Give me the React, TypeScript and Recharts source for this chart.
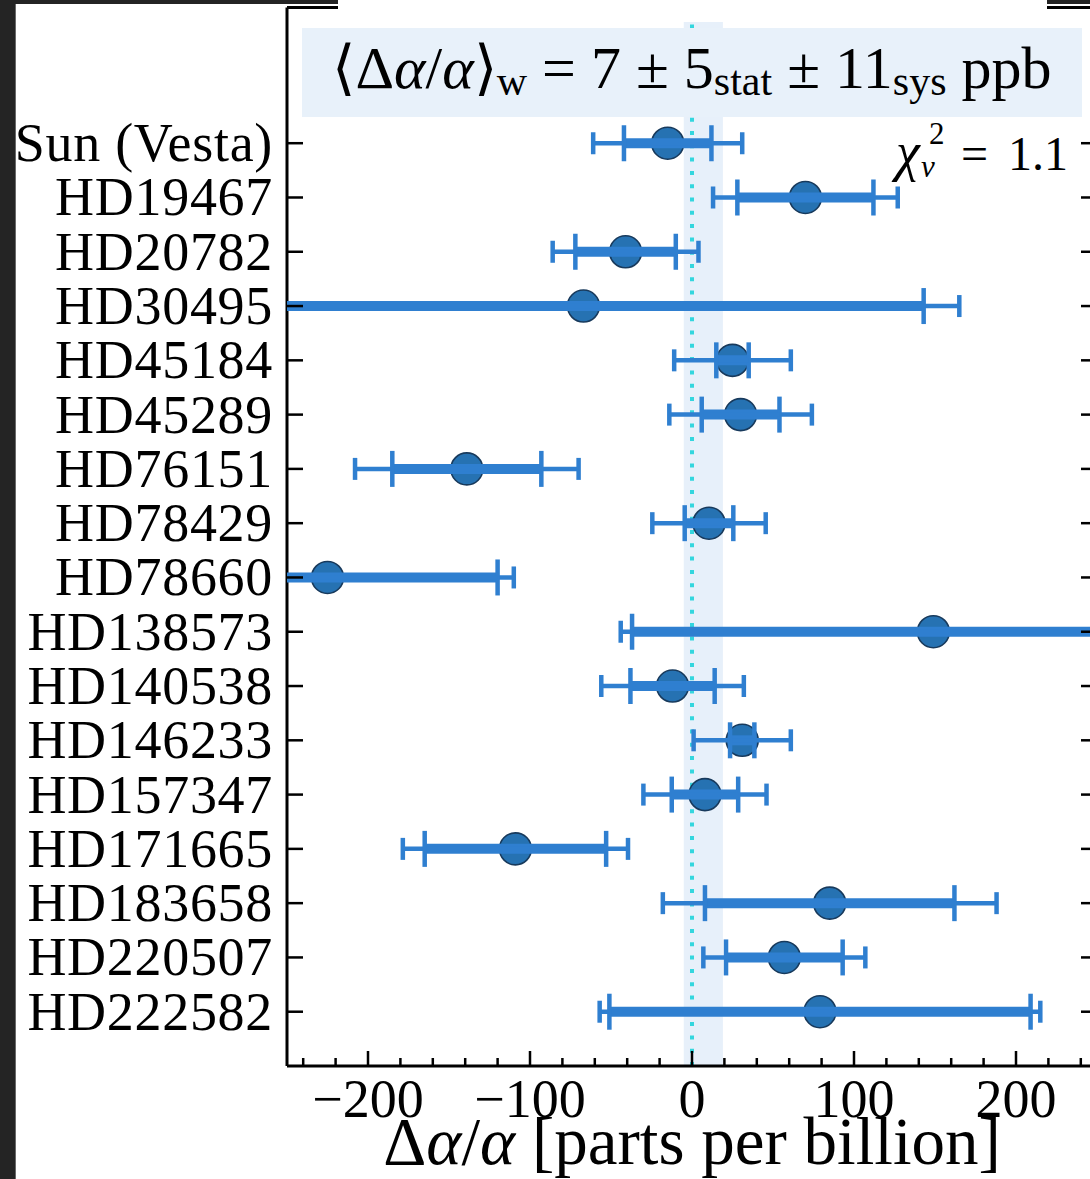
import React from 'react';
import { ScatterChart, Scatter, XAxis, YAxis, ErrorBar, ReferenceArea, ReferenceLine } from 'recharts';

const stars = [
  'Sun (Vesta)', 'HD19467', 'HD20782', 'HD30495', 'HD45184', 'HD45289', 'HD76151', 'HD78429',
  'HD78660', 'HD138573', 'HD140538', 'HD146233', 'HD157347', 'HD171665', 'HD183658', 'HD220507', 'HD222582',
];
const values = [-15, 70, -41, -67, 25, 30, -139, 10.5, -225, 149, -12, 31, 8, -109, 85, 57, 79];
const statErr = [27, 42, 31, 210, 10, 24, 46, 15, 105, 186, 26, 7.5, 20.5, 56, 77, 36, 130];
const totalErr = [46, 57, 45, 232, 36, 44, 69, 35, 115, 193, 44, 30, 38, 69.5, 103, 50, 136];

const majorTicks = [-200, -100, 0, 100, 200];
const xTicks = [-240, -220, -200, -180, -160, -140, -120, -100, -80, -60, -40, -20, 0, 20, 40, 60, 80, 100, 120, 140, 160, 180, 200, 220, 240];
const xDomain = [-250, 250];
const yDomain = [-2.5, 17];
const rowTicks = stars.map((_, i) => i);

const meanValue = 7;
const meanStat = 5;
const meanSys = 11;
const meanTotal = Math.sqrt(meanStat * meanStat + meanSys * meanSys);
const chiSq = '1.1';

const data = stars.map((name, i) => ({ name, x: values[i], y: i, stat: statErr[i], total: totalErr[i] }));

const FONT = '"Liberation Serif", "Times New Roman", serif';
const BAR = '#2f7fd0';
const TICK_W = 2.5;

const fmt = (v: number) => (v < 0 ? '\u2212' + Math.abs(v) : String(v));

function LeftTick(props: any) {
  const { x, y, payload } = props;
  return (
    <g>
      <line x1={x} x2={x + 16} y1={y} y2={y} stroke="#000" strokeWidth={TICK_W} />
      <text x={x - 14} y={y} dy={18} textAnchor="end" fontFamily={FONT} fontSize={54} letterSpacing={0.7} fill="#000">
        {stars[payload.value]}
      </text>
    </g>
  );
}

function RightTick(props: any) {
  const { x, y } = props;
  return <line x1={x - 16} x2={x} y1={y} y2={y} stroke="#000" strokeWidth={TICK_W} />;
}

function BottomTick(props: any) {
  const { x, y, payload } = props;
  const v = payload.value;
  const major = majorTicks.includes(v);
  const len = major ? 15 : 8;
  return (
    <g>
      <line x1={x} x2={x} y1={y - len} y2={y} stroke="#000" strokeWidth={TICK_W} />
      {major && (
        <text x={x} y={y} dy={51} textAnchor="middle" fontFamily={FONT} fontSize={54} fill="#000">
          {fmt(v)}
        </text>
      )}
    </g>
  );
}

function TopTick(props: any) {
  const { x, y, payload } = props;
  const major = majorTicks.includes(payload.value);
  const len = major ? 15 : 8;
  return <line x1={x} x2={x} y1={y} y2={y + len} stroke="#000" strokeWidth={TICK_W} />;
}

const Dot = (p: any) => <circle cx={p.cx} cy={p.cy} r={16} fill="#2672b2" stroke="#183a5c" strokeWidth={1.6} />;

const clipCss = '.recharts-errorBars, .recharts-errorBar { clip-path: url(#plot-clip); }';

export default function App() {
  return (
    <div style={{ position: 'absolute', left: 0, top: 0, width: 1090, height: 1179, overflow: 'hidden', background: '#fff' }}>
      <style>{clipCss}</style>
      <svg width={0} height={0} style={{ position: 'absolute' }}>
        <defs>
          <clipPath id="plot-clip" clipPathUnits="userSpaceOnUse">
            <rect x={287} y={7.5} width={810} height={1058.5} />
          </clipPath>
        </defs>
      </svg>
      <div style={{ position: 'absolute', left: 0, top: 0 }}>
        <ScatterChart width={1100} height={1179} margin={{ top: 0, right: 0, bottom: 0, left: 0 }}>
          <XAxis
            xAxisId="b"
            type="number"
            dataKey="x"
            orientation="bottom"
            domain={xDomain}
            ticks={xTicks}
            interval={0}
            allowDataOverflow
            height={113}
            tickSize={0}
            tickMargin={0}
            tickLine={false}
            axisLine={{ stroke: '#000', strokeWidth: 3 }}
            tick={<BottomTick />}
          />
          <XAxis
            xAxisId="t"
            type="number"
            orientation="top"
            domain={xDomain}
            ticks={xTicks}
            interval={0}
            allowDataOverflow
            height={7.5}
            tickSize={0}
            tickMargin={0}
            tickLine={false}
            axisLine={{ stroke: '#000', strokeWidth: 3 }}
            tick={<TopTick />}
          />
          <YAxis
            yAxisId="l"
            type="number"
            dataKey="y"
            orientation="left"
            domain={yDomain}
            reversed
            ticks={rowTicks}
            interval={0}
            allowDataOverflow
            width={287}
            tickSize={0}
            tickMargin={0}
            tickLine={false}
            axisLine={{ stroke: '#000', strokeWidth: 3 }}
            tick={<LeftTick />}
          />
          <YAxis
            yAxisId="r"
            type="number"
            orientation="right"
            domain={yDomain}
            reversed
            ticks={rowTicks}
            interval={0}
            allowDataOverflow
            width={3}
            tickSize={0}
            tickMargin={0}
            tickLine={false}
            axisLine={{ stroke: '#000', strokeWidth: 3 }}
            tick={<RightTick />}
          />
          <ReferenceArea
            xAxisId="b"
            yAxisId="l"
            x1={meanValue - meanTotal}
            x2={meanValue + meanTotal}
            fill="#e7f0fa"
            fillOpacity={1}
            stroke="none"
          />
          <ReferenceLine xAxisId="b" yAxisId="l" x={0} stroke="#34d6de" strokeWidth={4} strokeDasharray="4 9.3" />
          <Scatter xAxisId="b" yAxisId="l" data={data} shape={Dot} isAnimationActive={false}>
            <ErrorBar dataKey="total" direction="x" width={11} strokeWidth={4.5} stroke={BAR} isAnimationActive={false} zIndex={0} />
            <ErrorBar dataKey="stat" direction="x" width={0} strokeWidth={10} stroke={BAR} isAnimationActive={false} zIndex={0} />
            <ErrorBar dataKey="stat" direction="x" width={18} strokeWidth={4.5} stroke={BAR} isAnimationActive={false} zIndex={0} />
          </Scatter>
        </ScatterChart>
      </div>

      {/* screenshot frame remnants */}
      <div style={{ position: 'absolute', left: 0, top: 0, width: 15, height: 1179, background: '#242424', borderRight: '1px solid #6a6a6a' }} />
      <div style={{ position: 'absolute', left: 0, top: 0, width: 338, height: 4, background: '#242424' }} />
      <div style={{ position: 'absolute', left: 1047, top: 0, width: 43, height: 4, background: '#242424' }} />
      <div style={{ position: 'absolute', left: 338, top: 0, width: 709, height: 22, background: '#fff' }} />

      <svg width={1090} height={1179} style={{ position: 'absolute', left: 0, top: 0, pointerEvents: 'none' }}>
        {/* weighted mean annotation */}
        <rect x={302} y={28} width={780} height={89} fill="#e8f1fa" />
        <text x={692} y={88} textAnchor="middle" fontFamily={FONT} fontSize={60} fill="#000">
          <tspan>{'\u27E8\u0394'}</tspan>
          <tspan fontStyle="italic">α</tspan>
          <tspan>/</tspan>
          <tspan fontStyle="italic">α</tspan>
          <tspan>{'\u27E9'}</tspan>
          <tspan fontSize={42} dy={7}>w</tspan>
          <tspan dy={-7}>{' = ' + meanValue + ' \u00B1 ' + meanStat}</tspan>
          <tspan fontSize={42} dy={7}>stat</tspan>
          <tspan dy={-7}>{' \u00B1 ' + meanSys}</tspan>
          <tspan fontSize={42} dy={7}>sys</tspan>
          <tspan dy={-7}>{' ppb'}</tspan>
        </text>

        {/* reduced chi-square */}
        <text fontFamily={FONT} fill="#000">
          <tspan x={896} y={170} fontSize={54} fontStyle="italic">χ</tspan>
          <tspan x={929} y={144} fontSize={31}>2</tspan>
          <tspan x={921} y={177} fontSize={31} fontStyle="italic">ν</tspan>
          <tspan x={961} y={170} fontSize={48}>=</tspan>
          <tspan x={1008} y={170} fontSize={48}>{chiSq}</tspan>
        </text>

        {/* x-axis title */}
        <text x={692} y={1164} textAnchor="middle" fontFamily={FONT} fontSize={67} fill="#000">
          <tspan>{'\u0394'}</tspan>
          <tspan fontStyle="italic">α</tspan>
          <tspan>/</tspan>
          <tspan fontStyle="italic">α</tspan>
          <tspan>{' [parts per billion]'}</tspan>
        </text>
      </svg>
    </div>
  );
}
